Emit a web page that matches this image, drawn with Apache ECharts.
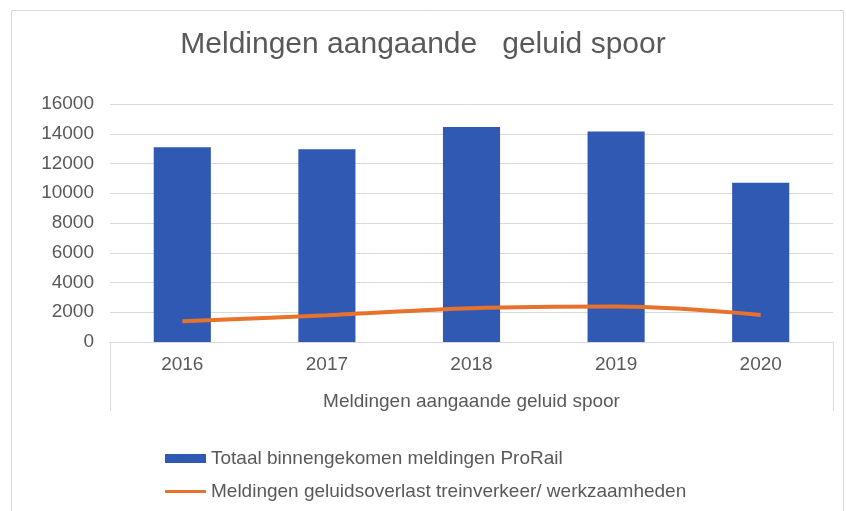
<!DOCTYPE html>
<html>
<head>
<meta charset="utf-8">
<script src="https://cdn.jsdelivr.net/npm/echarts@6/dist/echarts.min.js"></script>
<style>
html,body{margin:0;padding:0;background:#fff;}
#chart{width:846px;height:511px;}
</style>
</head>
<body>
<div id="chart"></div>
<script>
const title = 'Meldingen aangaande   geluid spoor';
const axisName = 'Meldingen aangaande geluid spoor';
const categories = ['2016', '2017', '2018', '2019', '2020'];
const totalName = 'Totaal binnengekomen meldingen ProRail';
const totalValues = [13100, 12950, 14450, 14150, 10700];
const noiseName = 'Meldingen geluidsoverlast treinverkeer/ werkzaamheden';
const noiseValues = [1400, 1800, 2270, 2380, 1820];

const FONT = '"Liberation Sans", Arial, sans-serif';
const TXT = '#595959';
const chart = echarts.init(document.getElementById('chart'), null, {renderer: 'canvas'});
chart.setOption({
  animation: false,
  backgroundColor: '#fff',
  graphic: [{
    type: 'rect', left: 9, top: 8, shape: {width: 832, height: 510},
    style: {fill: 'none', stroke: '#d9d9d9', lineWidth: 1}, silent: true, z: -1
  }],
  title: {
    text: title, left: 'center', top: 25,
    textStyle: {fontFamily: FONT, fontSize: 30, fontWeight: 'normal', color: TXT}
  },
  legend: {
    orient: 'vertical', left: 165, top: 449, padding: 0,
    itemWidth: 41, itemHeight: 9, itemGap: 14,
    textStyle: {fontFamily: FONT, fontSize: 19, color: TXT},
    data: [
      {name: totalName, icon: 'rect'},
      {name: noiseName, icon: 'path://M0,0L0,0M0,3L41,3L41,6L0,6ZM41,9L41,9'}
    ]
  },
  grid: {left: 110, right: 13, top: 104, bottom: 169, containLabel: false},
  xAxis: {
    type: 'category', data: categories,
    name: axisName, nameLocation: 'middle', nameGap: 50,
    nameTextStyle: {fontFamily: FONT, fontSize: 19, color: TXT},
    axisLine: {show: true, lineStyle: {color: '#d9d9d9', width: 1}},
    axisTick: {show: true, length: 69, interval: function (i) { return i === 0; }, lineStyle: {color: '#d9d9d9', width: 1}},
    axisLabel: {fontFamily: FONT, fontSize: 19, color: TXT, margin: 13}
  },
  yAxis: {
    type: 'value', min: 0, max: 16000, interval: 2000,
    axisLine: {show: false}, axisTick: {show: false},
    splitLine: {lineStyle: {color: '#d9d9d9', width: 1}},
    axisLabel: {fontFamily: FONT, fontSize: 19, color: TXT, margin: 16, formatter: function (v) { return String(v); }}
  },
  series: [{
    name: totalName, type: 'bar', data: totalValues, barWidth: '39.5%',
    itemStyle: {color: '#3059b4'}
  }, {
    name: noiseName, type: 'line', data: noiseValues, smooth: 0.35,
    symbol: 'none', showSymbol: false,
    lineStyle: {color: '#e8712c', width: 4}, itemStyle: {color: '#e8712c'}
  }]
});
</script>
</body>
</html>
